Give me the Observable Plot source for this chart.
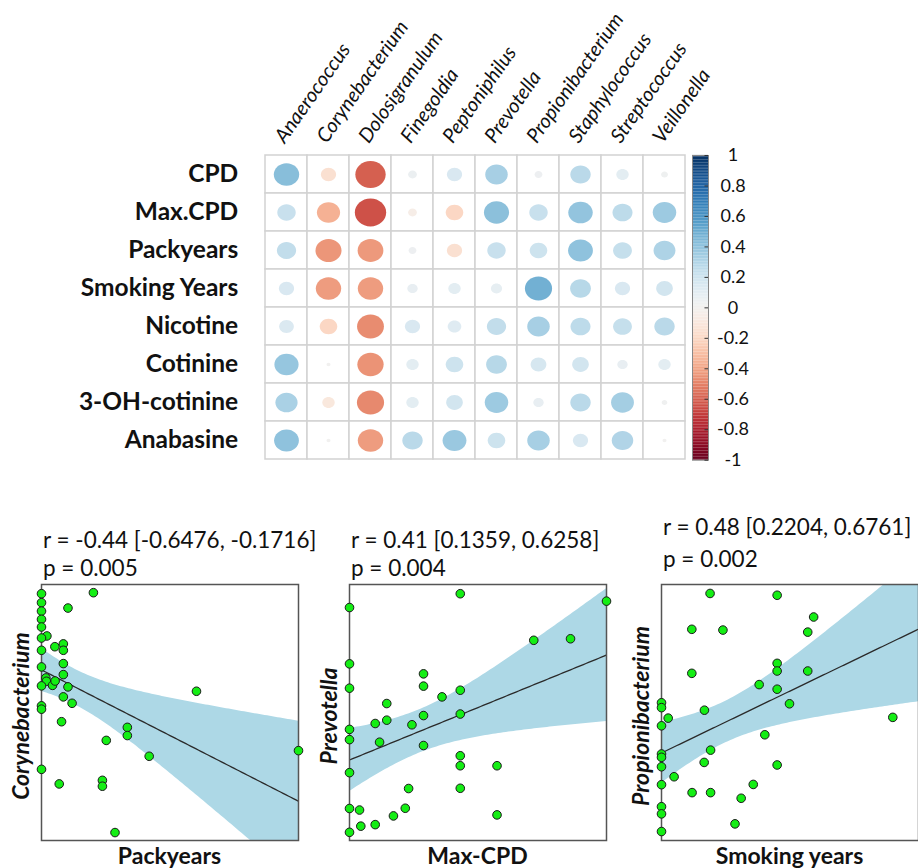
<!DOCTYPE html>
<html><head><meta charset="utf-8">
<script src="https://cdn.jsdelivr.net/npm/d3@7"></script>
<script src="https://cdn.jsdelivr.net/npm/@observablehq/plot@0.6"></script>
<style>
html,body{margin:0;padding:0;background:#fff;overflow:hidden}
#root{position:relative;width:918px;height:868px;overflow:hidden;font-family:Lato,sans-serif;color:#111}
#root svg{position:absolute;background:none}
.stat{position:absolute;font-size:22.5px;white-space:nowrap;line-height:1}
.xl{position:absolute;font-weight:bold;font-size:23px;text-align:center;white-space:nowrap;width:300px;line-height:1}
.yl{position:absolute;font-weight:bold;font-style:italic;font-size:23px;text-align:center;white-space:nowrap;width:300px;height:30px;line-height:30px;transform:rotate(-90deg);transform-origin:center}
</style></head><body><div id="root"></div>
<script>
// ---------- correlation matrix data ----------
const rows = ["CPD","Max.CPD","Packyears","Smoking Years","Nicotine","Cotinine","3-OH-cotinine","Anabasine"];
const genera = ["Anaerococcus","Corynebacterium","Dolosigranulum","Finegoldia","Peptoniphilus","Prevotella","Propionibacterium","Staphylococcus","Streptococcus","Veillonella"];
const corrCPD      = [0.42,-0.15,-0.60, 0.05, 0.15,0.33,0.04,0.27,0.10,0.03];
const corrMaxCPD   = [0.22,-0.35,-0.64,-0.05,-0.20,0.41,0.22,0.39,0.26,0.36];
const corrPackyrs  = [0.24,-0.44,-0.43, 0.04,-0.15,0.22,0.20,0.40,0.23,0.31];
const corrSmokeYrs = [0.15,-0.42,-0.42, 0.07, 0.10,0.08,0.48,0.28,0.15,0.18];
const corrNicotine = [0.14,-0.20,-0.47, 0.15, 0.12,0.24,0.33,0.26,0.23,0.27];
const corrCotinine = [0.38, 0.01,-0.45, 0.10, 0.20,0.28,0.16,0.18,0.07,0.10];
const corrOHcot    = [0.32,-0.10,-0.48, 0.10, 0.18,0.36,0.07,0.27,0.34,0.02];
const corrAnabas   = [0.40, 0.01,-0.42, 0.27, 0.37,0.20,0.33,0.15,0.30,0.01];
const colorbarTicks = [1,0.8,0.6,0.4,0.2,0,-0.2,-0.4,-0.6,-0.8,-1];

// ---------- scatter data (relative units, 0-100 of each panel) ----------
const packyearsX = [0,20.2,0,10.3,0,0,0,2.1,0,5.2,8.5,8.5,0,8.5,0,8.5,1.7,1.9,0,4.3,5.3,10.3,8.5,11.9,0,0,7.8,33.4,60.3,33.4,25.2,41.9,100,0,6.9,23.7,23.7,28.6];
const corynebY  = [96.4,96.8,92.9,90.8,89.6,86.4,83.4,79.9,79.1,75.7,76.8,74.3,74.3,69.1,67.8,64.8,63.5,62.2,60.4,60.6,62.3,60.0,56.1,53.6,52.6,51.3,46.4,44.2,58.3,41.0,39.1,32.9,35.1,27.8,22.1,23.5,21.2,3.1];
const maxCpdX   = [0,0,0,28.8,28.8,36.0,14.5,10.0,14.5,28.8,24.3,0,0,11.7,28.8,0,23.0,0,3.9,21.7,17.1,4.4,10.0,0,43.1,71.7,86.0,100,43.1,43.1,43.1,43.1,57.4,43.1,57.4];
const prevotellaY = [91.0,69.0,59.5,65.1,60.3,56.1,53.5,45.7,47.0,48.8,45.2,43.4,39.4,38.4,37.1,26.5,20.3,12.5,11.9,12.6,9.6,5.6,6.2,3.2,96.4,78.2,78.8,93.5,58.7,49.4,33.1,29.2,29.2,20.4,10.0];
const smokingYearsX = [18.9,45.0,59.2,11.8,23.9,56.9,45.0,45.0,56.9,11.8,38.0,45.0,49.8,16.7,0,0,2.6,0,90.0,40.2,19.1,0,0,16.6,45.0,0,4.9,0,11.9,19.1,35.7,31.0,0,0,28.6,0];
const propioniY = [96.5,95.8,87.3,82.5,82.2,81.4,69.2,66.2,66.2,65.3,60.9,59.1,53.4,50.9,53.8,51.9,47.8,44.8,48.1,41.3,35.3,33.8,32.5,30.5,29.5,28.8,24.9,21.8,18.7,18.7,21.9,16.5,13.2,10.4,6.5,3.5];

const panels = [
  {x: packyearsX, y: corynebY, xlab: "Packyears", ylab: "Corynebacterium", r: "r = -0.44 [-0.6476, -0.1716]", p: "p = 0.005", left: 41, rTop: 529, pTop: 557},
  {x: maxCpdX, y: prevotellaY, xlab: "Max-CPD", ylab: "Prevotella", r: "r = 0.41 [0.1359, 0.6258]", p: "p = 0.004", left: 349, rTop: 529, pTop: 557},
  {x: smokingYearsX, y: propioniY, xlab: "Smoking years", ylab: "Propionibacterium", r: "r = 0.48 [0.2204, 0.6761]", p: "p = 0.002", left: 661, rTop: 516, pTop: 548}
];

const root = document.getElementById("root");

// ---------- correlation plot ----------
const corrRows = [corrCPD,corrMaxCPD,corrPackyrs,corrSmokeYrs,corrNicotine,corrCotinine,corrOHcot,corrAnabas];
const cells = [];
rows.forEach((row, i) => genera.forEach((g, j) => cells.push({row, genus: g, v: corrRows[i][j]})));

const ellipse = {
  draw(ctx, size) {
    const r = Math.sqrt(size / Math.PI), rx = r * 1.06, ry = r * 0.94, k = 0.5523;
    ctx.moveTo(rx, 0);
    ctx.bezierCurveTo(rx, ry * k, rx * k, ry, 0, ry);
    ctx.bezierCurveTo(-rx * k, ry, -rx, ry * k, -rx, 0);
    ctx.bezierCurveTo(-rx, -ry * k, -rx * k, -ry, 0, -ry);
    ctx.bezierCurveTo(rx * k, -ry, rx, -ry * k, rx, 0);
    ctx.closePath();
  }
};

const corrPlot = Plot.plot({
  width: 918, height: 465,
  marginLeft: 264.7, marginRight: 918 - 686, marginTop: 155, marginBottom: 5.3,
  style: {fontFamily: "Lato", background: "none", overflow: "visible"},
  x: {domain: genera, padding: 0, axis: null},
  y: {domain: rows, padding: 0, axis: null},
  color: {type: "linear", scheme: "rdbu", domain: [-1, 1]},
  r: {type: "sqrt", domain: [0, 1], range: [0, 18.5]},
  marks: [
    Plot.cell(cells, {x: "genus", y: "row", fill: "white", stroke: "#d2d2d2", strokeWidth: 1.5, inset: 0}),
    Plot.dot(cells, {x: "genus", y: "row", r: d => Math.abs(d.v), fill: "v", symbol: ellipse}),
    Plot.axisY({anchor: "left", tickSize: 0, tickPadding: 27, fontSize: 24.5, fontWeight: "bold", label: null, fill: "#111"}),
    Plot.text(genera, {x: d => d, frameAnchor: "top", rotate: -55, textAnchor: "start", lineAnchor: "middle", dy: -15, dx: -7, fontStyle: "italic", fontSize: 20, fill: "#111"})
  ]
});
corrPlot.style.left = "0px"; corrPlot.style.top = "0px";
root.appendChild(corrPlot);

// ---------- colour bar ----------
const steps = d3.range(-1, 1, 0.01);
const bar = Plot.plot({
  width: 75, height: 320,
  marginLeft: 4, marginRight: 55, marginTop: 5, marginBottom: 10.3,
  style: {fontFamily: "Lato", background: "none", overflow: "visible"},
  x: {domain: [0, 1], axis: null},
  y: {domain: [-1, 1], axis: null},
  color: {type: "linear", scheme: "rdbu", domain: [-1, 1]},
  marks: [
    Plot.rect(steps, {x1: 0, x2: 1, y1: d => d, y2: d => d + 0.0105, fill: d => d + 0.005}),
    Plot.frame({stroke: "#888", strokeWidth: 1}),
    Plot.ruleY(colorbarTicks, {x1: 0.78, x2: 1, stroke: "#333", strokeWidth: 1}),
    Plot.text(colorbarTicks, {x: 1, y: d => d, text: d => String(d), dx: 24.5, textAnchor: "middle", fontSize: 18, fill: "#111"})
  ]
});
bar.style.left = "688px"; bar.style.top = "150px";
root.appendChild(bar);

// ---------- scatter panels ----------
function fitBand(xs, ys) {
  const n = xs.length, mx = d3.mean(xs), my = d3.mean(ys);
  let sxx = 0, sxy = 0;
  for (let i = 0; i < n; i++) { sxx += (xs[i] - mx) ** 2; sxy += (xs[i] - mx) * (ys[i] - my); }
  const b = sxy / sxx, a = my - b * mx;
  let sse = 0;
  for (let i = 0; i < n; i++) sse += (ys[i] - a - b * xs[i]) ** 2;
  const s = Math.sqrt(sse / (n - 2)), df = n - 2, z = 1.959964;
  const t = z + (z ** 3 + z) / (4 * df) + (5 * z ** 5 + 16 * z ** 3 + 3 * z) / (96 * df * df);
  return d3.range(0, 101).map(i => {
    const x = i, f = a + b * x, h = t * s * Math.sqrt(1 / n + (x - mx) ** 2 / sxx);
    return {x, fit: f, lo: f - h, hi: f + h};
  });
}

const M = 8, FW = 257, FH = 256, FTOP = 584;
panels.forEach(P => {
  const pts = P.x.map((x, i) => ({x, y: P.y[i]}));
  const band = fitBand(P.x, P.y);
  const chart = Plot.plot({
    width: FW + 2 * M, height: FH + 2 * M, margin: M,
    style: {fontFamily: "Lato", background: "none", overflow: "visible"},
    x: {domain: [0, 100], axis: null},
    y: {domain: [0, 100], axis: null},
    marks: [
      Plot.areaY(band, {x: "x", y1: "lo", y2: "hi", fill: "#ADD8E6", clip: true}),
      Plot.line(band, {x: "x", y: "fit", stroke: "#2a2a2a", strokeWidth: 1.3, clip: true}),
      Plot.frame({stroke: "#555", strokeWidth: 1.5}),
      Plot.dot(pts, {x: "x", y: "y", r: 4.3, fill: "#14ee14", stroke: "#1a1a1a", strokeWidth: 1})
    ]
  });
  chart.style.left = (P.left - M) + "px";
  chart.style.top = (FTOP - M) + "px";
  root.appendChild(chart);

  const r = document.createElement("div");
  r.className = "stat"; r.textContent = P.r;
  r.style.left = (P.left + 2) + "px"; r.style.top = P.rTop + "px";
  root.appendChild(r);
  const p = document.createElement("div");
  p.className = "stat"; p.textContent = P.p;
  p.style.left = (P.left + 2) + "px"; p.style.top = P.pTop + "px";
  root.appendChild(p);

  const xl = document.createElement("div");
  xl.className = "xl"; xl.textContent = P.xlab;
  xl.style.left = (P.left + FW / 2 - 150) + "px"; xl.style.top = "844px";
  root.appendChild(xl);

  const yl = document.createElement("div");
  yl.className = "yl"; yl.textContent = P.ylab;
  yl.style.left = (P.left - 21 - 150) + "px"; yl.style.top = (716 - 15) + "px";
  root.appendChild(yl);
});
</script></body></html>
